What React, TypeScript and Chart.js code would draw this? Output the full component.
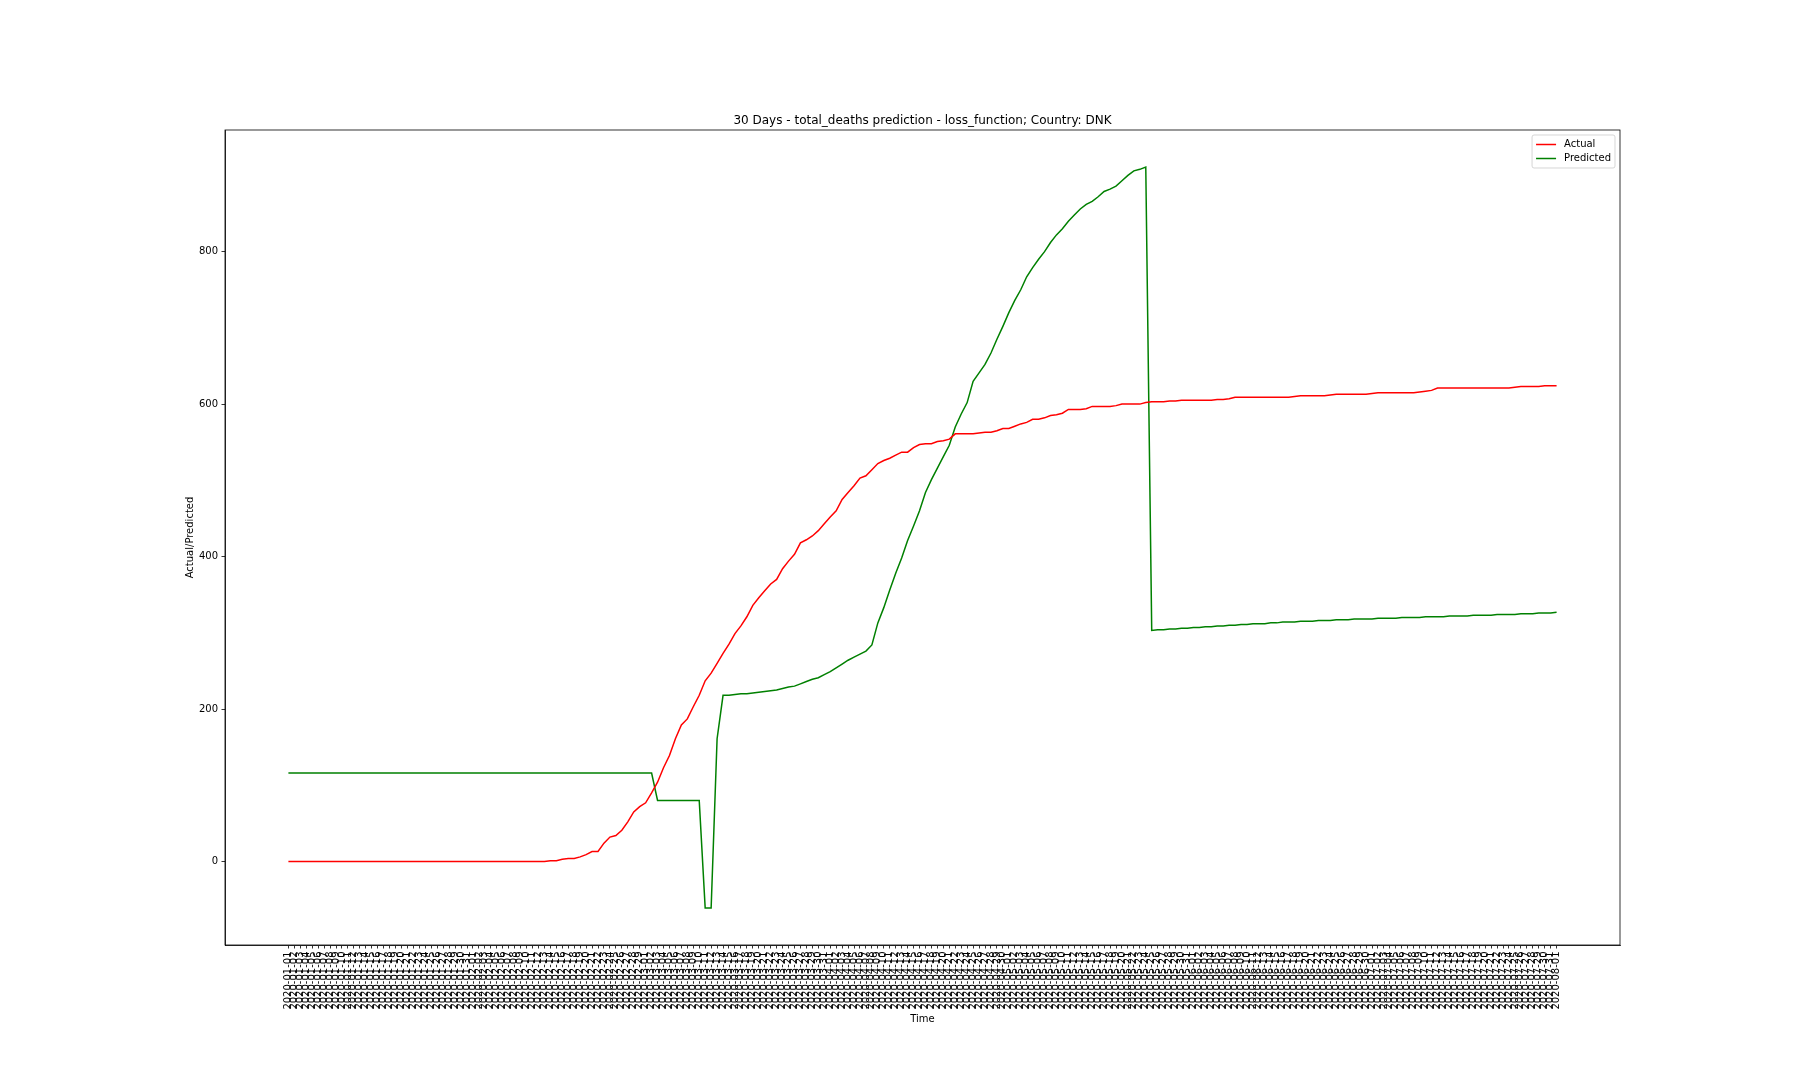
import React, { useEffect, useRef } from 'react';
import { Chart, registerables } from 'chart.js';

Chart.register(...registerables);

// ---- calendar used for the x categories: 2020-01-01 .. 2020-08-01 (daily)
const startYear = 2020;
const monthDays = [31, 29, 31, 30, 31, 30, 31]; // Jan..Jul 2020
const lastMonthLabel = '2020-08-01';

const dateLabels: string[] = [];
monthDays.forEach((n, m) => {
  for (let d = 1; d <= n; d++) {
    dateLabels.push(`${startYear}-${String(m + 1).padStart(2, '0')}-${String(d).padStart(2, '0')}`);
  }
});
dateLabels.push(lastMonthLabel);

// ---- series values (one per date)
const actualDeaths: number[] = [
  0, 0, 0, 0, 0, 0, 0, 0, 0, 0,
  0, 0, 0, 0, 0, 0, 0, 0, 0, 0,
  0, 0, 0, 0, 0, 0, 0, 0, 0, 0,
  0, 0, 0, 0, 0, 0, 0, 0, 0, 0,
  0, 0, 0, 0, 1, 1, 3, 4, 4, 6,
  9, 13, 13, 24, 32, 34, 41, 52, 65, 72,
  77, 90, 104, 123, 139, 161, 179, 187, 203, 218,
  237, 247, 260, 273, 285, 299, 309, 321, 336, 346,
  355, 364, 370, 384, 394, 403, 418, 422, 427, 434,
  443, 452, 460, 475, 484, 493, 503, 506, 514, 522,
  526, 529, 533, 537, 537, 543, 547, 548, 548, 551,
  552, 554, 561, 561, 561, 561, 562, 563, 563, 565,
  568, 568, 571, 574, 576, 580, 580, 582, 585, 586,
  588, 593, 593, 593, 594, 597, 597, 597, 597, 598,
  600, 600, 600, 600, 602, 603, 603, 603, 604, 604,
  605, 605, 605, 605, 605, 605, 606, 606, 607, 609,
  609, 609, 609, 609, 609, 609, 609, 609, 609, 610,
  611, 611, 611, 611, 611, 612, 613, 613, 613, 613,
  613, 613, 614, 615, 615, 615, 615, 615, 615, 615,
  616, 617, 618, 621, 621, 621, 621, 621, 621, 621,
  621, 621, 621, 621, 621, 621, 622, 623, 623, 623,
  623, 624, 624, 624,
];

const predictedDeaths: number[] = [
  116, 116, 116, 116, 116, 116, 116, 116, 116, 116,
  116, 116, 116, 116, 116, 116, 116, 116, 116, 116,
  116, 116, 116, 116, 116, 116, 116, 116, 116, 116,
  116, 116, 116, 116, 116, 116, 116, 116, 116, 116,
  116, 116, 116, 116, 116, 116, 116, 116, 116, 116,
  116, 116, 116, 116, 116, 116, 116, 116, 116, 116,
  116, 116, 80, 80, 80, 80, 80, 80, 80, 80,
  -61, -61, 161, 218, 218, 219, 220, 220, 221, 222,
  223, 224, 225, 227, 229, 230, 233, 236, 239, 241,
  245, 249, 254, 259, 264, 268, 272, 276, 284, 313,
  333, 356, 378, 398, 421, 440, 460, 484, 501, 516,
  531, 546, 570, 587, 602, 630, 641, 652, 667, 685,
  702, 720, 736, 750, 767, 779, 790, 800, 812, 822,
  830, 840, 848, 856, 862, 866, 872, 879, 882, 886,
  893, 900, 906, 908, 911, 303, 304, 304, 305, 305,
  306, 306, 307, 307, 308, 308, 309, 309, 310, 310,
  311, 311, 312, 312, 312, 313, 313, 314, 314, 314,
  315, 315, 315, 316, 316, 316, 317, 317, 317, 318,
  318, 318, 318, 319, 319, 319, 319, 320, 320, 320,
  320, 321, 321, 321, 321, 322, 322, 322, 322, 323,
  323, 323, 323, 324, 324, 324, 324, 325, 325, 325,
  326, 326, 326, 327,
];

const yTickValues = [0, 200, 400, 600, 800];

const titleText = '30 Days - total_deaths prediction - loss_function; Country: DNK';
const xTitle = 'Time';
const yTitle = 'Actual/Predicted';
const seriesNames = ['Actual', 'Predicted'];
const seriesColors = ['#ff0000', '#008000'];

const FONT = "'DejaVu Sans', 'Liberation Sans', sans-serif";

export default function App() {
  const canvasRef = useRef<HTMLCanvasElement | null>(null);

  useEffect(() => {
    const canvas = canvasRef.current;
    if (!canvas) return;

    const n = dateLabels.length;
    const xMargin = (n - 1) * 0.05;
    const allVals = [...actualDeaths, ...predictedDeaths];
    const vMin = Math.min(...allVals);
    const vMax = Math.max(...allVals);
    const yMargin = (vMax - vMin) * 0.05;

    const framePlugin = {
      id: 'frameAndLegend',
      afterDraw(chart: any) {
        const { ctx, chartArea } = chart;
        const { left, top, right, bottom } = chartArea;
        ctx.save();
        ctx.strokeStyle = '#000';
        ctx.lineWidth = 0.8;
        ctx.strokeRect(left, top, right - left, bottom - top);

        // legend (matplotlib style, upper right)
        ctx.font = `10px ${FONT}`;
        const tw = Math.max(...seriesNames.map((s) => ctx.measureText(s).width));
        const w = 4 + 20 + 8 + tw + 4;
        const h = 33;
        const x0 = right - 5 - w;
        const y0 = top + 5;
        ctx.beginPath();
        const r = 2;
        ctx.moveTo(x0 + r, y0);
        ctx.lineTo(x0 + w - r, y0);
        ctx.arcTo(x0 + w, y0, x0 + w, y0 + r, r);
        ctx.lineTo(x0 + w, y0 + h - r);
        ctx.arcTo(x0 + w, y0 + h, x0 + w - r, y0 + h, r);
        ctx.lineTo(x0 + r, y0 + h);
        ctx.arcTo(x0, y0 + h, x0, y0 + h - r, r);
        ctx.lineTo(x0, y0 + r);
        ctx.arcTo(x0, y0, x0 + r, y0, r);
        ctx.closePath();
        ctx.fillStyle = 'rgba(255,255,255,0.8)';
        ctx.fill();
        ctx.strokeStyle = 'rgba(204,204,204,0.8)';
        ctx.lineWidth = 1;
        ctx.stroke();

        chart.data.datasets.forEach((ds: any, k: number) => {
          const cy = y0 + 9.5 + k * 14;
          ctx.beginPath();
          ctx.strokeStyle = ds.borderColor;
          ctx.lineWidth = 1.5;
          ctx.moveTo(x0 + 4, cy);
          ctx.lineTo(x0 + 24, cy);
          ctx.stroke();
          ctx.fillStyle = '#000';
          ctx.textBaseline = 'middle';
          ctx.textAlign = 'left';
          ctx.fillText(ds.label, x0 + 32, cy);
        });
        ctx.restore();
      },
    };

    const chart = new Chart(canvas, {
      type: 'line',
      data: {
        datasets: [
          {
            label: seriesNames[0],
            data: actualDeaths.map((v, i) => ({ x: i, y: v })),
            borderColor: seriesColors[0],
            backgroundColor: seriesColors[0],
            borderWidth: 1.5,
            pointRadius: 0,
            tension: 0,
            fill: false,
          },
          {
            label: seriesNames[1],
            data: predictedDeaths.map((v, i) => ({ x: i, y: v })),
            borderColor: seriesColors[1],
            backgroundColor: seriesColors[1],
            borderWidth: 1.5,
            pointRadius: 0,
            tension: 0,
            fill: false,
          },
        ],
      },
      options: {
        responsive: false,
        animation: false,
        devicePixelRatio: 1,
        layout: { padding: { left: 180, right: 180, top: 0, bottom: 51 } },
        plugins: {
          legend: { display: false },
          tooltip: { enabled: false },
          title: {
            display: true,
            text: titleText,
            fullSize: false,
            color: '#000',
            font: { family: FONT, size: 12, weight: 'normal' },
            padding: { top: 113.2, bottom: 2.4 },
          },
        },
        scales: {
          x: {
            type: 'linear',
            min: -xMargin,
            max: n - 1 + xMargin,
            afterBuildTicks: (scale: any) => {
              scale.ticks = dateLabels.map((_, i) => ({ value: i }));
            },
            afterFit: (scale: any) => {
              scale.height = 84;
            },
            ticks: {
              autoSkip: false,
              maxRotation: 90,
              minRotation: 90,
              padding: 3,
              color: '#000',
              font: { family: FONT, size: 10 },
              callback: (v: any) => dateLabels[v as number] ?? '',
            },
            grid: {
              drawOnChartArea: false,
              drawTicks: true,
              tickLength: 3.5,
              color: '#000',
              tickColor: '#000',
              tickWidth: 0.8,
              lineWidth: 0.8,
            },
            border: { display: true, color: '#000', width: 0.8 },
            title: {
              display: true,
              text: xTitle,
              color: '#000',
              font: { family: FONT, size: 10 },
              padding: { top: 4, bottom: 4 },
            },
          },
          y: {
            type: 'linear',
            min: vMin - yMargin,
            max: vMax + yMargin,
            afterBuildTicks: (scale: any) => {
              scale.ticks = yTickValues.map((v) => ({ value: v }));
            },
            afterFit: (scale: any) => {
              scale.width = 45;
            },
            ticks: {
              padding: 3.5,
              color: '#000',
              font: { family: FONT, size: 10 },
              callback: (v: any) => String(v),
            },
            grid: {
              drawOnChartArea: false,
              drawTicks: true,
              tickLength: 3.5,
              color: '#000',
              tickColor: '#000',
              tickWidth: 0.8,
              lineWidth: 0.8,
            },
            border: { display: true, color: '#000', width: 0.8 },
            title: {
              display: true,
              text: yTitle,
              color: '#000',
              font: { family: FONT, size: 10 },
              padding: { top: 4, bottom: 4 },
            },
          },
        },
      },
      plugins: [framePlugin],
    } as any);

    return () => {
      chart.destroy();
    };
  }, []);

  return (
    <div style={{ position: 'absolute', left: 0, top: 0, width: 1800, height: 1080, background: '#fff' }}>
      <canvas ref={canvasRef} width={1800} height={1080} style={{ width: 1800, height: 1080, display: 'block' }} />
    </div>
  );
}
